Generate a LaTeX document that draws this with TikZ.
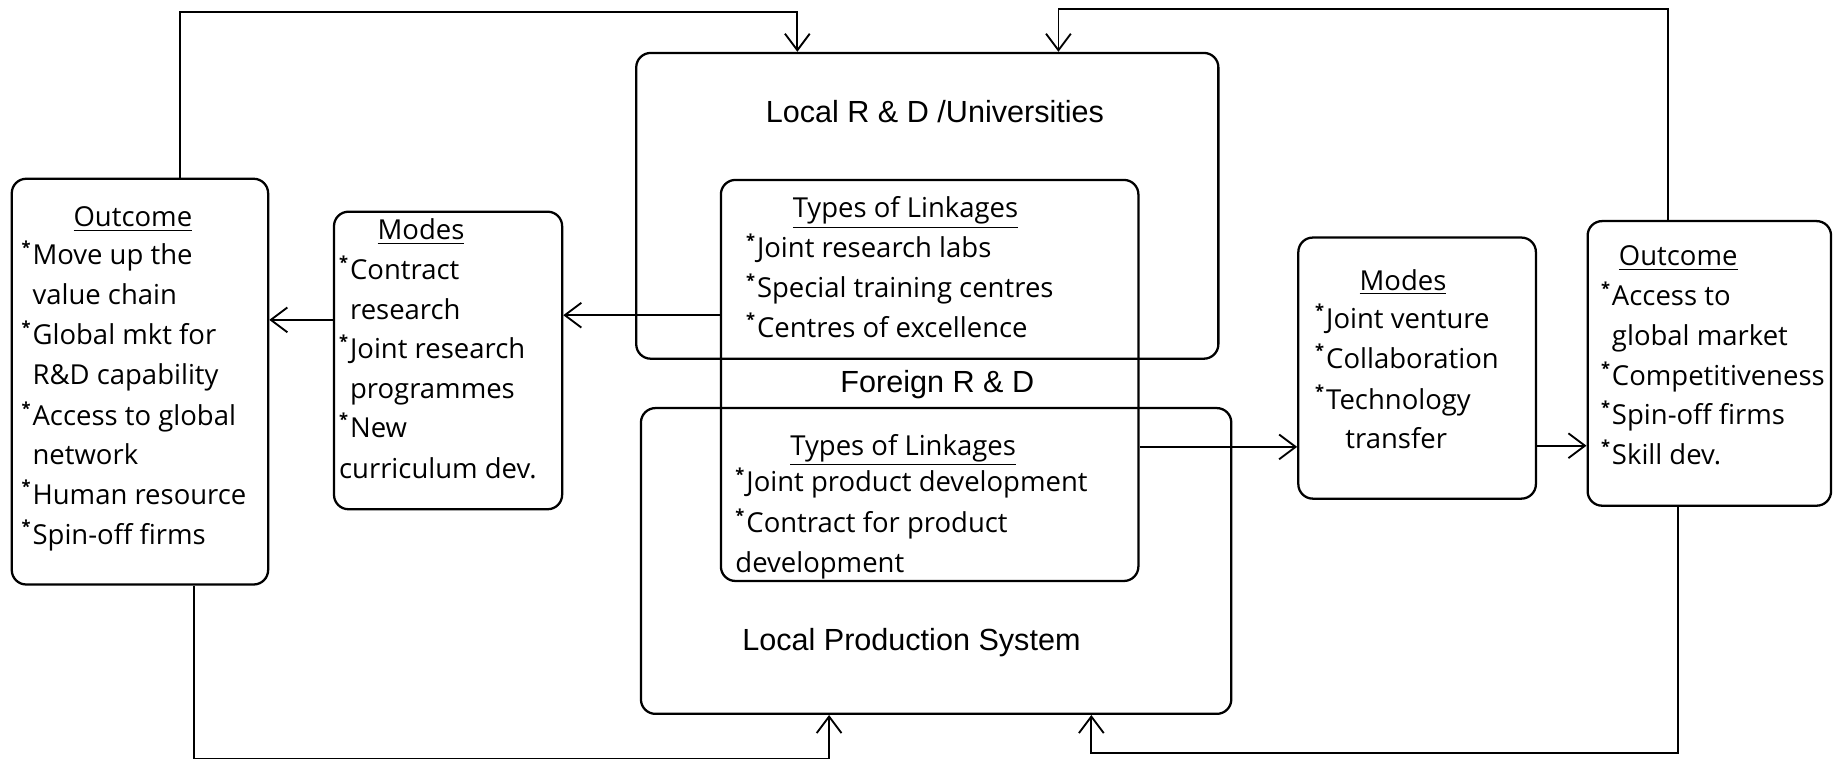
\documentclass[tikz,border=0pt]{standalone}
\usepackage{fontspec}
\setmainfont{Liberation Sans}
\newfontfamily\hand{Open Sans}
\usetikzlibrary{arrows.meta}
\tikzset{
  x={(0.02cm,0)}, y={(0,-0.02cm)},
  box/.style={draw, rounded corners=7pt, line width=1.1pt, inner sep=0pt},
  arr/.style={line width=0.9pt, -{Straight Barb[length=8pt,width=12pt,line width=0.9pt]}},
  head/.style={font=\fontsize{14.8}{17}\selectfont, inner sep=0pt},
  hd/.style={font=\fontsize{13.3}{15}\hand, inner sep=0pt, anchor=base},
  it/.style={font=\fontsize{13.3}{15}\hand, inner sep=0pt, anchor=base west},
}
\newcommand\boxnode[5]{\node[box, minimum width={(#4-#2)*0.02cm}, minimum height={(#5-#3)*0.02cm}] (#1) at ({(#2+#4)/2},{(#3+#5)/2}) {};}
\newcommand\bul{\makebox[0.4em][l]{\raisebox{0.42em}{\fontsize{8}{8}\bfseries*}}}
\newcommand\ind{\hspace*{0.4em}}
\begin{document}
\begin{tikzpicture}
\useasboundingbox (0,0) rectangle (1568,650);
% boxes
\boxnode{lrd}{541}{45}{1036}{305}
\boxnode{frd}{613}{153}{968}{494}
\boxnode{lps}{545}{347}{1047}{607}
\boxnode{modesL}{284}{180}{478}{433}
\boxnode{outL}{10}{152}{228}{497}
\boxnode{modesR}{1104}{202}{1306}{424}
\boxnode{outR}{1350}{188}{1557}{430}
% main labels
\node[head] (tlrd) at (795,95) {Local R \& D /Universities};
\node[head] (tfrd) at (797,327) {Foreign R \& D};
\node[head] (tlps) at (775,546) {Local Production System};
% types of linkages (top)
\node[hd] (h1) at (770,185) {\underline{Types of Linkages}};
\node[it] (a1) at (634,219) {\bul Joint research labs};
\node[it] (a2) at (634,253) {\bul Special training centres};
\node[it] (a3) at (634,287) {\bul Centres of excellence};
% types of linkages (bottom)
\node[hd] (h2) at (768,387) {\underline{Types of Linkages}};
\node[it] (b1) at (625,418) {\bul Joint product development};
\node[it] (b2) at (625,453) {\bul Contract for product};
\node[it] (b3) at (625,487) {development};
% left modes
\node[hd] (h3) at (358,204) {\underline{Modes}};
\node[it] (c1) at (288,238) {\bul Contract};
\node[it] (c2) at (288,272) {\ind research};
\node[it] (c3) at (288,305) {\bul Joint research};
\node[it] (c4) at (288,339) {\ind programmes};
\node[it] (c5) at (288,372) {\bul New};
\node[it] (c6) at (288,407) {curriculum dev.};
% left outcome
\node[hd] (h4) at (113,193) {\underline{Outcome}};
\node[it] (d1) at (18,225) {\bul Move up the};
\node[it] (d2) at (18,259) {\ind value chain};
\node[it] (d3) at (18,293) {\bul Global mkt for};
\node[it] (d4) at (18,327) {\ind R\&D capability};
\node[it] (d5) at (18,362) {\bul Access to global};
\node[it] (d6) at (18,395) {\ind network};
\node[it] (d7) at (18,429) {\bul Human resource};
\node[it] (d8) at (18,463) {\bul Spin-off firms};
% right modes
\node[hd] (h5) at (1193,247) {\underline{Modes}};
\node[it] (e1) at (1118,279) {\bul Joint venture};
\node[it] (e2) at (1118,313) {\bul Collaboration};
\node[it] (e3) at (1118,348) {\bul Technology};
\node[it] (e4) at (1118,381) {\hspace*{1.1em}transfer};
% right outcome
\node[hd] (h6) at (1427,226) {\underline{Outcome}};
\node[it] (f1) at (1361,260) {\bul Access to};
\node[it] (f2) at (1361,294) {\ind global market};
\node[it] (f3) at (1361,328) {\bul Competitiveness};
\node[it] (f4) at (1361,361) {\bul Spin-off firms};
\node[it] (f5) at (1361,395) {\bul Skill dev.};
% connectors
\draw[arr] (frd.west |- 0,268) -- (modesL.east |- 0,268);
\draw[arr] (modesL.west |- 0,272) -- (outL.east |- 0,272);
\draw[arr] (frd.east |- 0,380) -- (modesR.west |- 0,380);
\draw[arr] (modesR.east |- 0,379) -- (outR.west |- 0,379);
\draw[arr] (outL.north -| 153,0) -- (153,10) -| (lrd.north -| 678,0);
\draw[arr] (outR.north -| 1418,0) -- (1418,8) -| (lrd.north -| 900,0);
\draw[arr] (outL.south -| 165,0) -- (165,645) -| (lps.south -| 705,0);
\draw[arr] (outR.south -| 1427,0) -- (1427,640) -| (lps.south -| 928,0);
\end{tikzpicture}
\end{document}
